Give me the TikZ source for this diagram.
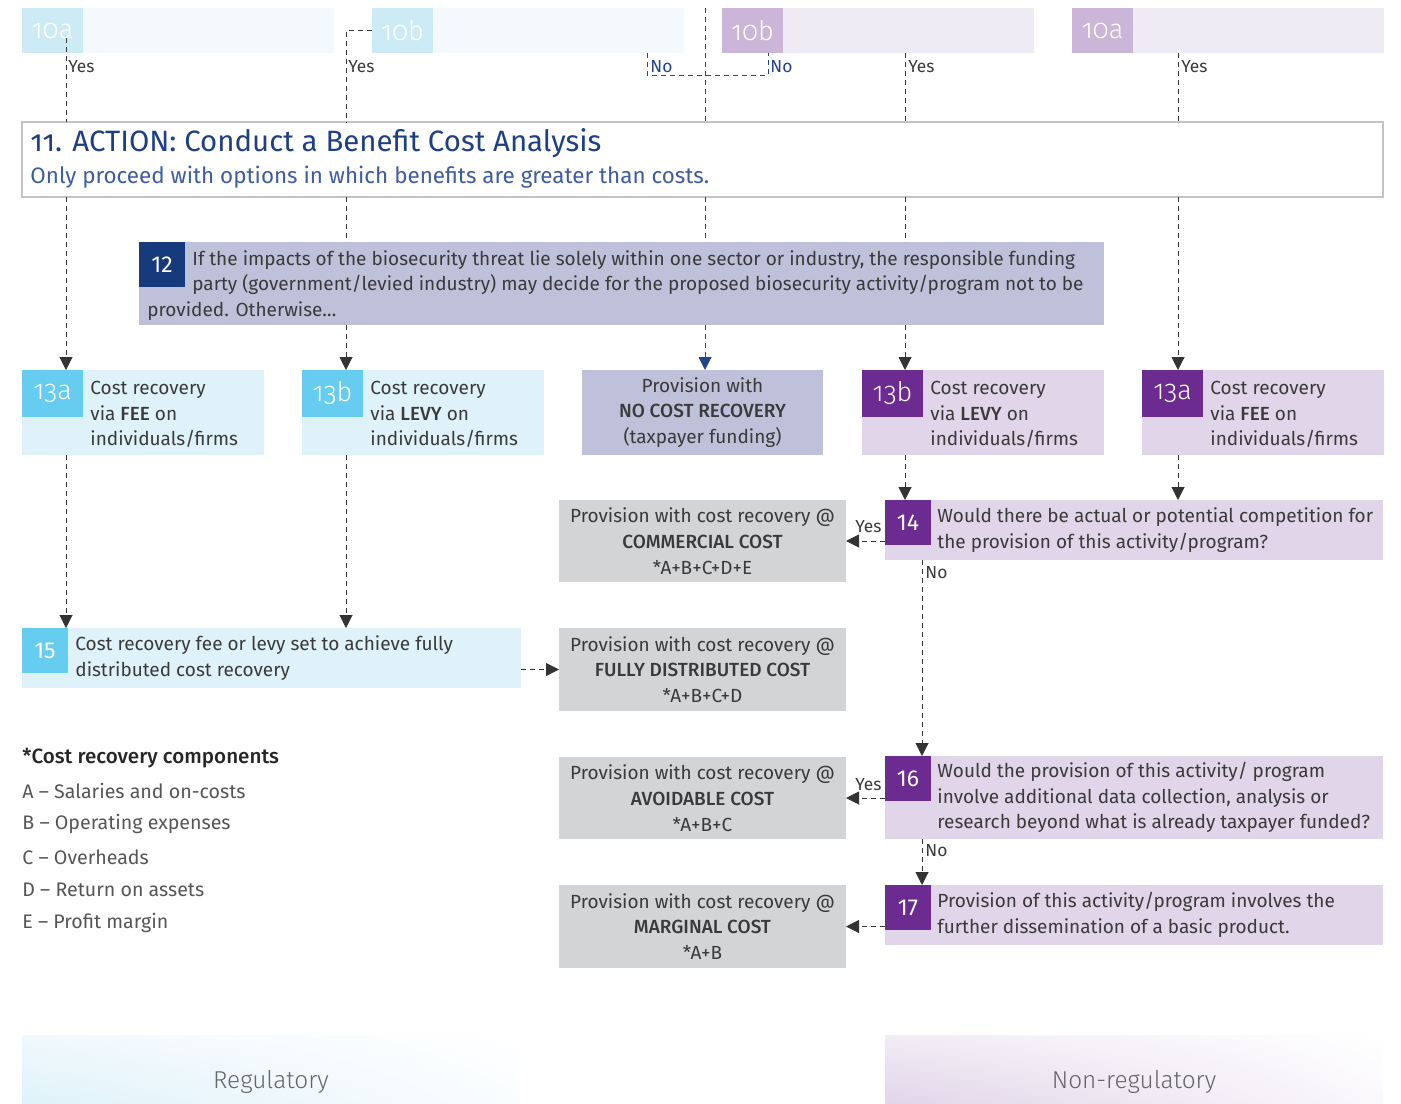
\documentclass[tikz,border=0pt]{standalone}
\usepackage{fontspec}
\setmainfont{Fira Sans}[BoldFont={Fira Sans Medium}]
\newfontfamily\oldnum{Fira Sans}[Numbers=OldStyle]
\newfontfamily\tabnum{Fira Sans Light}[Numbers=OldStyle]
\newfontfamily\lightfont{Fira Sans Light}
\usetikzlibrary{positioning,arrows.meta,shadings}

\definecolor{regtab}{HTML}{66CCF0}
\definecolor{regfill}{HTML}{DFF2FA}
\definecolor{regpale}{HTML}{CDEAF7}
\definecolor{regpaler}{HTML}{F3F9FD}
\definecolor{nrtab}{HTML}{6C2B90}
\definecolor{nrfill}{HTML}{E1D5E9}
\definecolor{nrpale}{HTML}{CBB5D8}
\definecolor{nrpaler}{HTML}{EFEBF4}
\definecolor{lavfill}{HTML}{BFC1DA}
\definecolor{navytab}{HTML}{173A7C}
\definecolor{greyfill}{HTML}{D3D4D6}
\definecolor{bodytext}{HTML}{3A3A3A}
\definecolor{legendgrey}{HTML}{555555}
\definecolor{titleblue}{HTML}{1D3F87}
\definecolor{subblue}{HTML}{3D5CA3}
\definecolor{flowblue}{HTML}{24448C}
\definecolor{framegrey}{HTML}{C4C4C4}

\tikzset{
  base/.style={inner sep=0pt, outer sep=0pt, anchor=north west},
  bar/.style={base, minimum width=156pt, minimum height=22.5pt},
  bartab/.style={base, minimum width=30.5pt, minimum height=22.5pt, text=white, font=\tabnum\fontsize{13.5}{13.5}\selectfont},
  opt/.style={base, minimum width=121pt, minimum height=42.5pt},
  opttab/.style={base, minimum width=30.5pt, minimum height=23.5pt, text=white, font=\tabnum\fontsize{13.5}{13.5}\selectfont},
  numtab/.style={base, minimum width=23pt, minimum height=22.5pt, text=white, font=\fontsize{11.5}{11.5}\selectfont},
  qbox/.style={base, fill=nrfill, minimum width=249pt},
  result/.style={base, fill=greyfill, minimum width=143.5pt, minimum height=41.5pt, align=center},
  txt/.style={inner sep=0pt, anchor=west, align=left},
  lbl/.style={inner sep=0pt, anchor=west, font=\fontsize{8.7}{8.7}\selectfont},
  flow/.style={draw=black!80, dash pattern=on 2.5pt off 2pt, line width=0.5pt},
  arr/.style={flow, -{Triangle[length=6.5pt,width=6.5pt]}},
  noflow/.style={flow, draw=flowblue},
  noarr/.style={noflow, -{Triangle[length=6.5pt,width=6.5pt]}, flowblue},
}

\begin{document}
\begin{tikzpicture}[x=0.5pt, y=-0.5pt, font=\fontsize{9.5}{12.9}\selectfont, text=bodytext]
\useasboundingbox (0,0) rectangle (1401,1103);

% outcomes of step 10
\node[bar, fill=regpaler] (bar10aL) at (22,8) {};
\node[bartab, fill=regpale] (tab10aL) at (bar10aL.north west) {10a};
\node[bar, fill=regpaler] (bar10bL) at (372,8) {};
\node[bartab, fill=regpale] (tab10bL) at (bar10bL.north west) {10b};
\node[bar, fill=nrpaler] (bar10bR) at (722,8) {};
\node[bartab, fill=nrpale] (tab10bR) at (bar10bR.north west) {10b};
\node[bar, fill=nrpaler] (bar10aR) at (1072,8) {};
\node[bartab, fill=nrpale] (tab10aR) at (bar10aR.north west) {10a};

% step 11
\node[base, draw=framegrey, line width=0.6pt, fill=white, minimum width=680.5pt, minimum height=37.5pt] (act) at (22,122) {};
\node[txt, text=titleblue, font=\fontsize{14.7}{14.7}\selectfont] (acttitle) at (30,143) {{\oldnum 11.} ACTION: Conduct a Benefit Cost Analysis};
\node[txt, text=subblue, font=\fontsize{11.2}{11.2}\selectfont] (actsub) at (30,177) {Only proceed with options in which benefits are greater than costs.};

% step 12
\node[base, fill=lavfill, minimum width=482.5pt, minimum height=41.5pt] (b12) at (139,242) {};
\node[numtab, fill=navytab] (tab12) at (b12.north west) {12};
\node[txt] (t12) at ([xshift=4pt,yshift=-1pt]b12.west) {\hspace*{22.5pt}If the impacts of the biosecurity threat lie solely within one sector or industry, the responsible funding\\
\hspace*{22.5pt}party (government/levied industry) may decide for the proposed biosecurity activity/program not to be\\
provided. Otherwise…};

% step 13 options
\node[opt, fill=regfill] (b13aL) at (22,370) {};
\node[opttab, fill=regtab] (tab13aL) at (b13aL.north west) {13a};
\node[txt] (t13aL) at ([xshift=34pt,yshift=-1pt]b13aL.west) {Cost recovery\\via \textbf{FEE} on\\individuals/firms};
\node[opt, fill=regfill] (b13bL) at (302,370) {};
\node[opttab, fill=regtab] (tab13bL) at (b13bL.north west) {13b};
\node[txt] (t13bL) at ([xshift=34pt,yshift=-1pt]b13bL.west) {Cost recovery\\via \textbf{LEVY} on\\individuals/firms};
\node[opt, fill=lavfill, minimum width=120.5pt, align=center] (nocost) at (582,370) {Provision with\\\textbf{NO COST RECOVERY}\\(taxpayer funding)};
\node[opt, fill=nrfill] (b13bR) at (862,370) {};
\node[opttab, fill=nrtab] (tab13bR) at (b13bR.north west) {13b};
\node[txt] (t13bR) at ([xshift=34pt,yshift=-1pt]b13bR.west) {Cost recovery\\via \textbf{LEVY} on\\individuals/firms};
\node[opt, fill=nrfill] (b13aR) at (1142,370) {};
\node[opttab, fill=nrtab] (tab13aR) at (b13aR.north west) {13a};
\node[txt] (t13aR) at ([xshift=34pt,yshift=-1pt]b13aR.west) {Cost recovery\\via \textbf{FEE} on\\individuals/firms};

% questions 14, 16, 17
\node[qbox, minimum height=30pt] (q14) at (885,500) {};
\node[numtab, fill=nrtab] (tab14) at (q14.north west) {14};
\node[txt] (t14) at ([xshift=26pt]q14.west) {Would there be actual or potential competition for\\the provision of this activity/program?};
\node[qbox, minimum height=41.5pt] (q16) at (885,756) {};
\node[numtab, fill=nrtab] (tab16) at (q16.north west) {16};
\node[txt] (t16) at ([xshift=26pt]q16.west) {Would the provision of this activity/ program\\involve additional data collection, analysis or\\research beyond what is already taxpayer funded?};
\node[qbox, minimum height=30pt] (q17) at (885,885) {};
\node[numtab, fill=nrtab] (tab17) at (q17.north west) {17};
\node[txt] (t17) at ([xshift=26pt]q17.west) {Provision of this activity/program involves the\\further dissemination of a basic product.};

% step 15
\node[base, fill=regfill, minimum width=249.5pt, minimum height=30pt] (b15) at (22,628) {};
\node[numtab, fill=regtab] (tab15) at (b15.north west) {15};
\node[txt] (t15) at ([xshift=26.5pt]b15.west) {Cost recovery fee or levy set to achieve fully\\distributed cost recovery};

% cost recovery results
\node[result, minimum height=41pt] (commercial) at (559,500) {Provision with cost recovery @\\\textbf{COMMERCIAL COST}\\*A+B+C+D+E};
\node[result] (fulldist) at (559,628) {Provision with cost recovery @\\\textbf{FULLY DISTRIBUTED COST}\\*A+B+C+D};
\node[result, minimum height=41pt] (avoidable) at (559,757) {Provision with cost recovery @\\\textbf{AVOIDABLE COST}\\*A+B+C};
\node[result] (marginal) at (559,885) {Provision with cost recovery @\\\textbf{MARGINAL COST}\\*A+B};

% legend
\node[txt, text=black!85, font=\fontsize{10.3}{10.3}\selectfont\bfseries] (leg0) at (22,758) {*Cost recovery components};
\foreach \i/\row/\item in {1/791/A -- Salaries and on-costs, 2/824/B -- Operating expenses, 3/857/C -- Overheads, 4/890/D -- Return on assets, 5/923/E -- Profit margin}
  \node[txt, text=legendgrey, font=\fontsize{9.8}{9.8}\selectfont] (leg\i) at (22,\row) {\item};

% lanes
\coordinate (startA) at (66,38);
\coordinate (laneB) at (346,0);
\coordinate (startC) at (705,8);
\coordinate (laneD) at (905,0);
\coordinate (laneE) at (1178,0);
\coordinate (laneF) at (922,0);
\coordinate (noL) at (bar10bL.south -| 647,0);
\coordinate (noR) at (bar10bR.south -| 768,0);

\draw[flow] (startA) -- (startA |- act.north);
\draw[arr] (startA |- act.south) -- (startA |- b13aL.north);
\draw[flow] (tab10bL.west) -| (laneB |- act.north);
\draw[flow] (laneB |- act.south) -- (laneB |- b12.north);
\draw[arr] (laneB |- b12.south) -- (laneB |- b13bL.north);
\draw[noflow] (noL) -- ++(0,22) -| (noR);
\draw[noflow] (startC) -- (startC |- act.north);
\draw[noflow] (startC |- act.south) -- (startC |- b12.north);
\draw[noarr] (startC |- b12.south) -- (startC |- nocost.north);
\draw[flow] (laneD |- bar10bR.south) -- (laneD |- act.north);
\draw[flow] (laneD |- act.south) -- (laneD |- b12.north);
\draw[arr] (laneD |- b12.south) -- (laneD |- b13bR.north);
\draw[flow] (laneE |- bar10aR.south) -- (laneE |- act.north);
\draw[arr] (laneE |- act.south) -- (laneE |- b13aR.north);

\draw[arr] (startA |- b13aL.south) -- (startA |- b15.north);
\draw[arr] (laneB |- b13bL.south) -- (laneB |- b15.north);
\draw[arr] (b15.east |- fulldist.west) -- (fulldist.west);
\draw[arr] (laneD |- b13bR.south) -- (laneD |- q14.north);
\draw[arr] (laneE |- b13aR.south) -- (laneE |- q14.north);
\draw[arr] (q14.west |- commercial.east) -- (commercial.east);
\draw[arr] (laneF |- q14.south) -- (laneF |- q16.north);
\draw[arr] (q16.west |- avoidable.east) -- (avoidable.east);
\draw[arr] (laneF |- q16.south) -- (laneF |- q17.north);
\draw[arr] (q17.west |- marginal.east) -- (marginal.east);

% branch labels
\node[lbl] (yesA) at (68,67) {Yes};
\node[lbl] (yesB) at (348,67) {Yes};
\node[lbl, text=flowblue] (noA) at (650,67) {No};
\node[lbl, text=flowblue] (noB) at (770,67) {No};
\node[lbl] (yesD) at (908,67) {Yes};
\node[lbl] (yesE) at (1181,67) {Yes};
\node[lbl] (yes14) at (855,527) {Yes};
\node[lbl] (no14) at (925,573) {No};
\node[lbl] (yes16) at (855,785) {Yes};
\node[lbl] (no16) at (925,851) {No};

% sector bands
\shade[lower left=regfill, upper left=regfill!45, lower right=regfill!15, upper right=white] (22,1035) rectangle (520,1103);
\node[text=black!60, font=\lightfont\fontsize{12.2}{12.2}\selectfont] (reg) at (271,1082) {Regulatory};
\shade[lower left=nrfill, upper left=nrfill!45, lower right=nrfill!15, upper right=white] (885,1035) rectangle (1383,1103);
\node[text=black!60, font=\lightfont\fontsize{12.2}{12.2}\selectfont] (nonreg) at (1134,1082) {Non-regulatory};
\end{tikzpicture}
\end{document}
